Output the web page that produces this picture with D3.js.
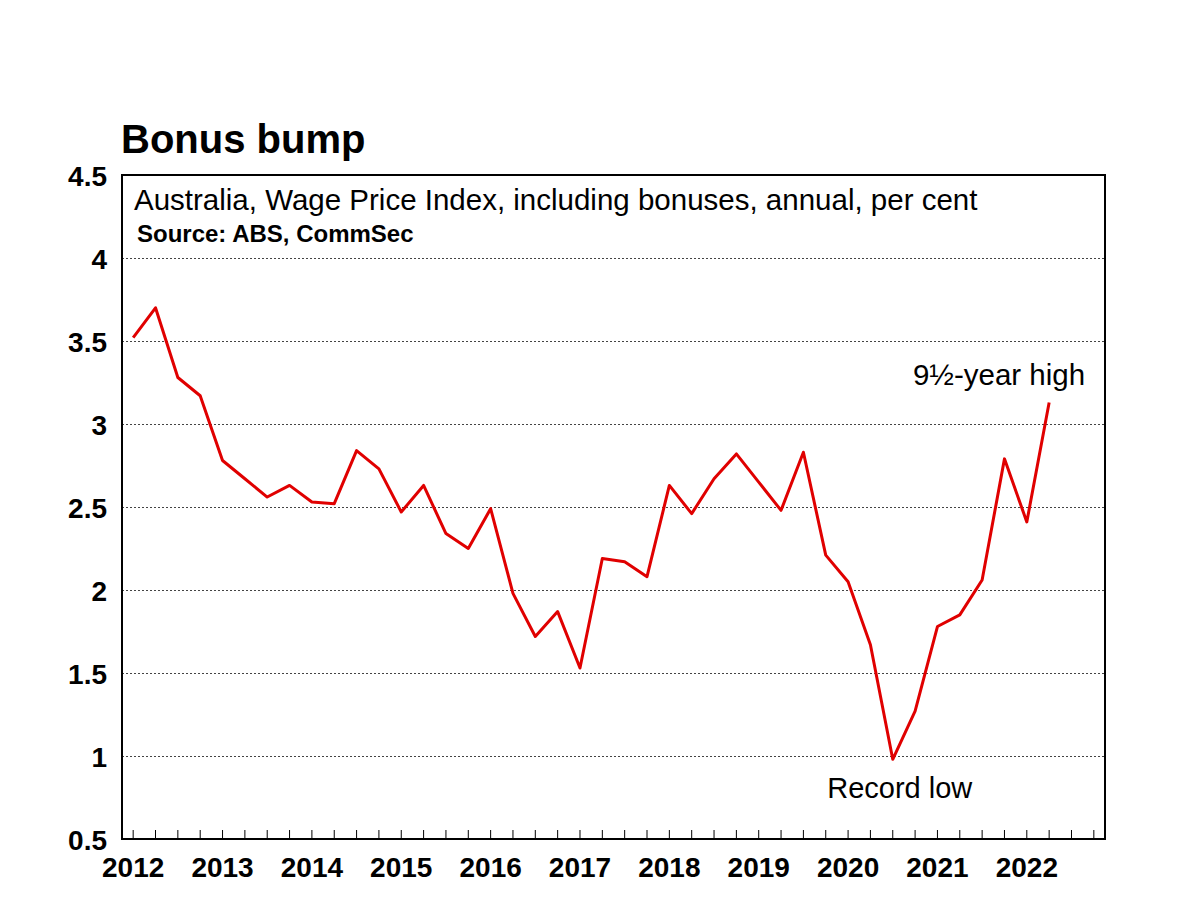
<!DOCTYPE html>
<html>
<head>
<meta charset="utf-8">
<script src="https://cdn.jsdelivr.net/npm/d3@7"></script>
<style>
  body { margin: 0; background: #fff; }
  svg { display: block; font-family: "Liberation Sans", Arial, sans-serif; }
</style>
</head>
<body>
<div id="chart"></div>
<script>
// Quarterly periods on the x axis (last two have no data yet)
const quarters = [
  "Mar-12","Jun-12","Sep-12","Dec-12","Mar-13","Jun-13","Sep-13","Dec-13",
  "Mar-14","Jun-14","Sep-14","Dec-14","Mar-15","Jun-15","Sep-15","Dec-15",
  "Mar-16","Jun-16","Sep-16","Dec-16","Mar-17","Jun-17","Sep-17","Dec-17",
  "Mar-18","Jun-18","Sep-18","Dec-18","Mar-19","Jun-19","Sep-19","Dec-19",
  "Mar-20","Jun-20","Sep-20","Dec-20","Mar-21","Jun-21","Sep-21","Dec-21",
  "Mar-22","Jun-22","Sep-22","Dec-22"
];

// Wage Price Index incl. bonuses, annual % change
const wpi = [
  3.52, 3.70, 3.28, 3.17, 2.78, 2.67, 2.56, 2.63,
  2.53, 2.52, 2.84, 2.73, 2.47, 2.63, 2.34, 2.25,
  2.49, 1.98, 1.72, 1.87, 1.53, 2.19, 2.17, 2.08,
  2.63, 2.46, 2.67, 2.82, 2.65, 2.48, 2.83, 2.21,
  2.05, 1.67, 0.98, 1.27, 1.78, 1.85, 2.06, 2.79,
  2.41, 3.13
];

const yearLabels = ["2012","2013","2014","2015","2016","2017","2018","2019","2020","2021","2022"];
const yearQuarters = yearLabels.map(y => "Mar-" + y.slice(2));
const yTicks = [0.5, 1, 1.5, 2, 2.5, 3, 3.5, 4, 4.5];

const W = 1200, H = 900;
const margin = { top: 175, right: 95, bottom: 61, left: 122 };
const width = W - margin.left - margin.right;
const height = H - margin.top - margin.bottom;

const svg = d3.select('#chart').append('svg')
  .attr('width', W)
  .attr('height', H);

const g = svg.append('g')
  .attr('transform', `translate(${margin.left},${margin.top})`);

// Scales
const x = d3.scaleBand()
  .domain(quarters)
  .range([0, width])
  .padding(0);
const y = d3.scaleLinear()
  .domain([0.5, 4.5])
  .range([height, 0]);
const xc = q => x(q) + x.bandwidth() / 2;

// Gridlines
const grid = g.append('g')
  .call(d3.axisLeft(y).tickValues(yTicks.slice(1, -1)).tickSize(-width).tickFormat(''));
grid.select('.domain').remove();
grid.selectAll('line')
  .attr('stroke', '#444')
  .attr('stroke-width', 1)
  .attr('stroke-dasharray', '2,2');

// Y axis labels
const yAxis = g.append('g')
  .call(d3.axisLeft(y).tickValues(yTicks).tickSize(0).tickPadding(15).tickFormat(d3.format('')));
yAxis.select('.domain').remove();
yAxis.selectAll('text')
  .style('font-size', '28px')
  .style('font-weight', 'bold')
  .attr('fill', '#000')
  .attr('dy', '0.38em');

// X axis quarter ticks (pointing up into the plot)
const xAxis = g.append('g')
  .attr('transform', `translate(0,${height})`)
  .call(d3.axisBottom(x).tickSize(-9).tickFormat(''));
xAxis.select('.domain').remove();
xAxis.selectAll('line').attr('stroke', '#000').attr('stroke-width', 1);

// X axis year labels
const xLabels = g.append('g')
  .attr('transform', `translate(0,${height})`)
  .call(d3.axisBottom(x).tickValues(yearQuarters).tickSize(0).tickPadding(18)
    .tickFormat((d, i) => yearLabels[i]));
xLabels.select('.domain').remove();
xLabels.selectAll('text')
  .style('font-size', '28px')
  .style('font-weight', 'bold')
  .attr('fill', '#000');

// Line
const line = d3.line()
  .x((d, i) => xc(quarters[i]))
  .y(d => y(d));
g.append('path')
  .datum(wpi)
  .attr('fill', 'none')
  .attr('stroke', '#e00000')
  .attr('stroke-width', 3)
  .attr('stroke-linejoin', 'round')
  .attr('d', line);

// Frame
g.append('rect')
  .attr('width', width)
  .attr('height', height)
  .attr('fill', 'none')
  .attr('stroke', '#000')
  .attr('stroke-width', 2);

// Title & subtitles
svg.append('text')
  .attr('x', 121).attr('y', 153)
  .style('font-size', '40px').style('font-weight', 'bold')
  .text('Bonus bump');
g.append('text')
  .attr('x', 12).attr('y', 35)
  .style('font-size', '29.5px')
  .text('Australia, Wage Price Index, including bonuses, annual, per cent');
g.append('text')
  .attr('x', 15).attr('y', 67)
  .style('font-size', '24px').style('font-weight', 'bold')
  .text('Source: ABS, CommSec');

// Annotations
g.append('text')
  .attr('x', xc('Jun-22') + 36).attr('y', y(3.235))
  .attr('text-anchor', 'end')
  .style('font-size', '29.5px')
  .text('9½-year high');
g.append('text')
  .attr('x', xc('Sep-20') + 7).attr('y', y(0.75))
  .attr('text-anchor', 'middle')
  .style('font-size', '29px')
  .text('Record low');
</script>
</body>
</html>
